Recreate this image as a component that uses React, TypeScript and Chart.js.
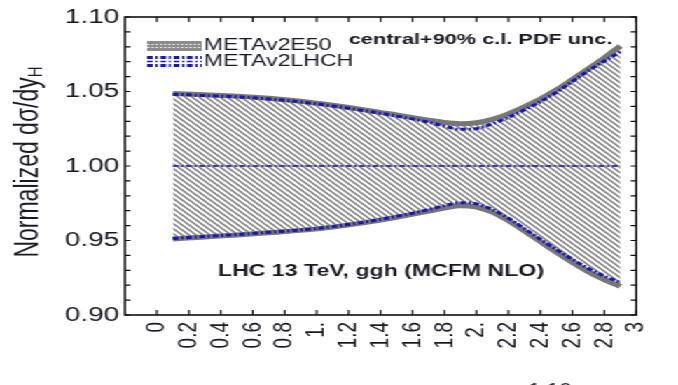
import React, { useEffect, useRef } from "react";
import { Chart, registerables } from "chart.js";

Chart.register(...registerables);

// Drawing surface (internal units) and its horizontal stretch onto the page
const W = 484;
const H = 385;
const STRETCH = 678 / W;

// Higgs rapidity points
const rapidity = [0.1, 0.3, 0.5, 0.7, 0.9, 1.1, 1.3, 1.5, 1.7, 1.8, 1.9, 2.0, 2.1, 2.2, 2.3, 2.4, 2.5, 2.6, 2.7, 2.8, 2.9];

// METAv2E50: 90% c.l. band edges and central value
const e50Upper = [1.0487, 1.0478, 1.0469, 1.0455, 1.0435, 1.0408, 1.0377, 1.0343, 1.0308, 1.0292, 1.0284, 1.029, 1.0313, 1.035, 1.0397, 1.045, 1.051, 1.058, 1.0652, 1.0725, 1.0805];
const e50Lower = [0.951, 0.9524, 0.9537, 0.9552, 0.9568, 0.959, 0.962, 0.9656, 0.9697, 0.9718, 0.9733, 0.9725, 0.969, 0.9633, 0.9565, 0.9493, 0.9422, 0.9354, 0.929, 0.9238, 0.9192];
const e50Central = [1, 1, 1, 1, 1, 1, 1, 1, 1, 1, 1, 1, 1, 1, 1, 1, 1, 1, 1, 1, 1];

// METAv2LHCH: 90% c.l. band edges and central value
const lhchUpper = [1.0482, 1.0473, 1.0464, 1.045, 1.043, 1.0403, 1.0371, 1.0335, 1.0294, 1.0268, 1.0246, 1.0251, 1.0284, 1.0326, 1.0377, 1.0432, 1.0494, 1.0567, 1.0639, 1.0704, 1.0767];
const lhchLower = [0.9513, 0.9527, 0.954, 0.9555, 0.9571, 0.9593, 0.9624, 0.9662, 0.9707, 0.9734, 0.9754, 0.9746, 0.9708, 0.965, 0.958, 0.9508, 0.9439, 0.9374, 0.9312, 0.9262, 0.9218];
const lhchCentral = [1, 1, 1, 1, 1, 1, 1, 1, 1, 1, 1, 1, 1, 1, 1, 1, 1, 1, 1, 1, 1];

// Axis ticks
const xTickValues = [0, 0.2, 0.4, 0.6, 0.8, 1, 1.2, 1.4, 1.6, 1.8, 2, 2.2, 2.4, 2.6, 2.8, 3];
const xTickLabels = ["0", "0.2", "0.4", "0.6", "0.8", "1.", "1.2", "1.4", "1.6", "1.8", "2.", "2.2", "2.4", "2.6", "2.8", "3"];
const yTickValues = [0.9, 0.95, 1.0, 1.05, 1.1];
const yTickLabels = ["0.90", "0.95", "1.00", "1.05", "1.10"];
const yMinorTicks = [0.9, 0.91, 0.92, 0.93, 0.94, 0.95, 0.96, 0.97, 0.98, 0.99, 1.0, 1.01, 1.02, 1.03, 1.04, 1.05, 1.06, 1.07, 1.08, 1.09, 1.1];

const BLUE = "#1515b8";
const GREY = "#777777";
const INK = "#191925";
const FONT = "'Liberation Sans', Arial, Helvetica, sans-serif";

const toPoints = (ys: number[]) => rapidity.map((x, i) => ({ x, y: ys[i] }));

function makeHatch(): CanvasPattern | string {
  const s = 5;
  const c = document.createElement("canvas");
  c.width = s;
  c.height = s;
  const g = c.getContext("2d");
  if (!g) return "rgba(140,140,140,0.4)";
  g.strokeStyle = "#7c7c7c";
  g.lineWidth = 1.5;
  for (const off of [-s, 0, s]) {
    g.beginPath();
    g.moveTo(-1, -1 + off);
    g.lineTo(s + 1, s + 1 + off);
    g.stroke();
  }
  const p = g.createPattern(c, "repeat");
  return p ?? "rgba(140,140,140,0.4)";
}

const decorations = {
  id: "decorations",
  afterDraw(chart: any) {
    const { ctx, chartArea: a, scales } = chart;
    const x = scales.x;
    const y = scales.y;
    ctx.save();

    // inward tick marks on all four sides
    ctx.strokeStyle = "#111";
    ctx.lineWidth = 1.2;
    ctx.beginPath();
    for (const v of xTickValues) {
      const px = x.getPixelForValue(v);
      ctx.moveTo(px, a.bottom);
      ctx.lineTo(px, a.bottom - 5);
      ctx.moveTo(px, a.top);
      ctx.lineTo(px, a.top + 5);
    }
    for (const v of yMinorTicks) {
      const py = y.getPixelForValue(v);
      const len = 4;
      ctx.moveTo(a.left, py);
      ctx.lineTo(a.left + len, py);
      ctx.moveTo(a.right, py);
      ctx.lineTo(a.right - len, py);
    }
    ctx.stroke();

    // frame
    ctx.lineWidth = 1.6;
    ctx.strokeRect(a.left, a.top, a.right - a.left, a.bottom - a.top);

    // legend swatches
    ctx.fillStyle = "#8c8c8c";
    ctx.fillRect(105, 41, 39, 10);
    ctx.strokeStyle = "rgba(255,255,255,0.7)";
    ctx.lineWidth = 1;
    ctx.setLineDash([2, 1]);
    ctx.beginPath();
    ctx.moveTo(105, 44.5);
    ctx.lineTo(144, 44.5);
    ctx.moveTo(105, 47.5);
    ctx.lineTo(144, 47.5);
    ctx.stroke();

    ctx.strokeStyle = BLUE;
    ctx.setLineDash([4, 2, 1.5, 2]);
    ctx.lineWidth = 3;
    ctx.beginPath();
    ctx.moveTo(105, 57.5);
    ctx.lineTo(144, 57.5);
    ctx.moveTo(105, 65.5);
    ctx.lineTo(144, 65.5);
    ctx.stroke();
    ctx.lineWidth = 1.5;
    ctx.beginPath();
    ctx.moveTo(105, 61.5);
    ctx.lineTo(144, 61.5);
    ctx.stroke();
    ctx.setLineDash([]);

    // texts
    ctx.fillStyle = INK;
    ctx.textBaseline = "middle";
    ctx.textAlign = "left";
    ctx.font = `16.5px ${FONT}`;
    ctx.fillText("METAv2E50", 145.6, 45.5);
    ctx.fillText("METAv2LHCH", 145.6, 61);

    ctx.font = `bold 15.5px ${FONT}`;
    ctx.fillText("central+90% c.l. PDF unc.", 249, 40);

    ctx.font = `bold 16.5px ${FONT}`;
    ctx.fillText("LHC 13 TeV, ggh (MCFM NLO)", 155.6, 271);

    // y-axis title with subscript
    ctx.save();
    ctx.translate(20.5, 162);
    ctx.rotate(-Math.PI / 2);
    const main = "Normalized d\u03c3/dy";
    ctx.font = `23px ${FONT}`;
    const w1 = ctx.measureText(main).width;
    ctx.font = `15px ${FONT}`;
    const w2 = ctx.measureText("H").width;
    const start = -(w1 + w2) / 2;
    ctx.font = `23px ${FONT}`;
    ctx.fillText(main, start, 0);
    ctx.font = `15px ${FONT}`;
    ctx.fillText("H", start + w1, 5.5);
    ctx.restore();

    // text running off the bottom edge
    ctx.font = `16px ${FONT}`;
    ctx.textBaseline = "alphabetic";
    ctx.fillText("1.10", 377, 395);

    ctx.restore();
  },
};

export default function App() {
  const ref = useRef<HTMLCanvasElement | null>(null);

  useEffect(() => {
    const canvas = ref.current;
    if (!canvas) return;
    const hatch = makeHatch();
    const line = (data: number[], color: string, width: number, dash: number[], extra: any = {}) => ({
      data: toPoints(data),
      borderColor: color,
      borderWidth: width,
      borderDash: dash,
      pointRadius: 0,
      fill: false,
      cubicInterpolationMode: "monotone",
      ...extra,
    });

    const chart = new Chart(canvas, {
      type: "line",
      data: {
        datasets: [
          line(lhchUpper, BLUE, 3, [4, 2, 1.5, 2], { label: "METAv2LHCH" }),
          line(lhchLower, BLUE, 3, [4, 2, 1.5, 2], { label: "METAv2LHCH" }),
          line(lhchCentral, BLUE, 1.3, [4, 2, 1.5, 2], { label: "METAv2LHCH" }),
          line(e50Upper, GREY, 5, [], { label: "METAv2E50", fill: "+1", backgroundColor: hatch }),
          line(e50Lower, GREY, 5, [], { label: "METAv2E50" }),
          line(e50Central, "#9a9a9a", 1.3, [], { label: "METAv2E50" }),
        ] as any,
      },
      options: {
        responsive: false,
        animation: false,
        devicePixelRatio: 1,
        events: [],
        layout: { padding: { left: 0, right: 4.3, top: 17, bottom: 0 } },
        plugins: {
          legend: { display: false },
          tooltip: { enabled: false },
          filler: { drawTime: "beforeDatasetsDraw" },
        } as any,
        scales: {
          x: {
            type: "linear",
            min: -0.2,
            max: 3.0,
            grid: { display: false, drawTicks: false },
            border: { display: false },
            afterBuildTicks: (s: any) => {
              s.ticks = xTickValues.map((v) => ({ value: v }));
            },
            afterFit: (s: any) => {
              s.height = 70;
            },
            ticks: {
              autoSkip: false,
              minRotation: 90,
              maxRotation: 90,
              padding: 7,
              color: INK,
              font: { family: FONT, size: 19 },
              callback: (_v: any, i: number) => xTickLabels[i],
            },
          },
          y: {
            type: "linear",
            min: 0.9,
            max: 1.1,
            grid: { display: false, drawTicks: false },
            border: { display: false },
            afterBuildTicks: (s: any) => {
              s.ticks = yTickValues.map((v) => ({ value: v }));
            },
            afterFit: (s: any) => {
              s.width = 89.2;
            },
            ticks: {
              padding: 4,
              color: INK,
              font: { family: FONT, size: 20 },
              callback: (_v: any, i: number) => yTickLabels[i],
            },
          },
        },
      } as any,
      plugins: [decorations],
    });
    return () => chart.destroy();
  }, []);

  return (
    <div
      style={{
        position: "fixed",
        left: 0,
        top: 0,
        width: W,
        height: H,
        background: "#fff",
        transform: `scaleX(${STRETCH})`,
        transformOrigin: "0 0",
      }}
    >
      <canvas ref={ref} width={W} height={H} style={{ display: "block", width: W, height: H }} />
    </div>
  );
}
